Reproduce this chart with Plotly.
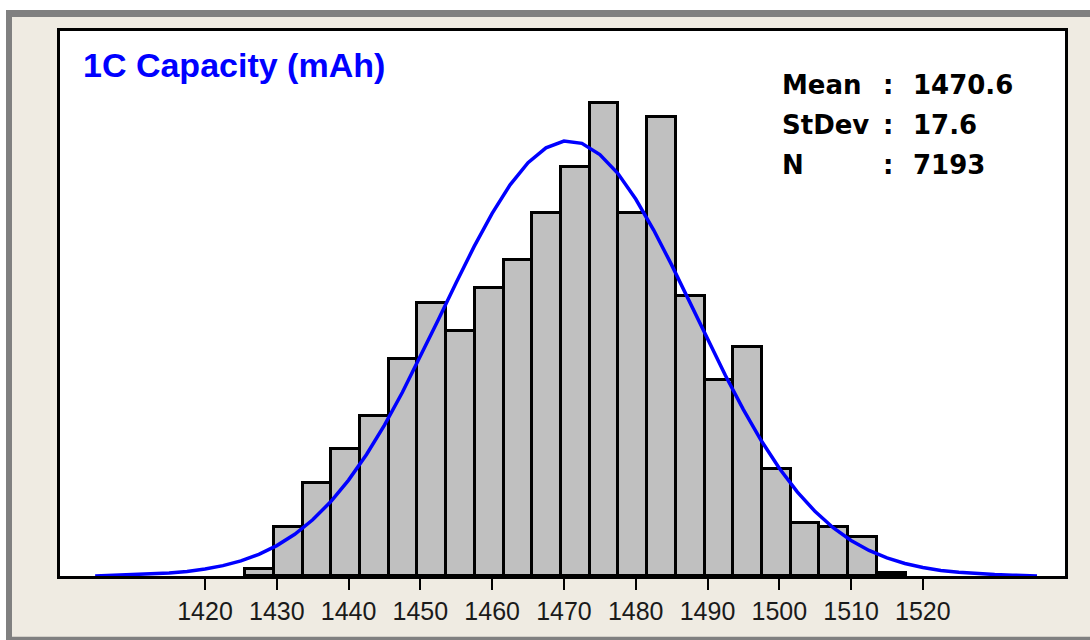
import plotly.graph_objects as go

# histogram bins (mAh) and counts
bin_centers = [1427.6, 1431.6, 1435.6, 1439.6, 1443.6, 1447.6, 1451.6, 1455.6,
               1459.6, 1463.6, 1467.6, 1471.6, 1475.6, 1479.6, 1483.6, 1487.6,
               1491.6, 1495.6, 1499.6, 1503.6, 1507.6, 1511.6, 1515.6]
counts = [10, 74, 139, 191, 240, 326, 410, 368, 432, 474, 544, 613,
          710, 544, 689, 420, 294, 343, 161, 80, 74, 59, 4]

# fitted curve
curve_x = [1404.7, 1407.5, 1410, 1412.5, 1415, 1417.5, 1420, 1422.5, 1425, 1427.5,
           1430, 1432.5, 1435, 1437.5, 1440, 1442.5, 1445, 1447.5, 1450, 1452.5,
           1455, 1457.5, 1460, 1462.5, 1465, 1467.5, 1470, 1472.5, 1475, 1477.5,
           1480, 1482.5, 1485, 1487.5, 1490, 1492.5, 1495, 1497.5, 1500, 1502.5,
           1505, 1507.5, 1510, 1512.5, 1515, 1517.5, 1520, 1522.5, 1525, 1527.5,
           1530, 1532.5, 1535, 1535.9]
curve_y = [0, 1.1, 1.7, 2.8, 4.4, 6.9, 10.5, 15.6, 22.7, 32.5,
           45.6, 62.6, 84.3, 111.3, 143.9, 182.3, 226.4, 275.6, 328.8, 384.3,
           440.3, 494.4, 544.0, 586.7, 620.0, 642.2, 652.5, 649.0, 632.1, 604.0,
           565.5, 519.0, 466.7, 411.3, 355.3, 300.7, 249.5, 202.8, 161.6, 126.2,
           96.6, 72.4, 53.2, 38.3, 27.1, 18.7, 12.7, 8.4, 5.5, 3.5,
           2.2, 1.3, 0.8, 0]

tick_vals = [1420, 1430, 1440, 1450, 1460, 1470, 1480, 1490, 1500, 1510, 1520]
tick_text = ["1420", "1430", "1440", "1450", "1460", "1470", "1480", "1490", "1500", "1510", "1520"]

stat_labels = ["Mean", "StDev", "N"]
stat_values = ["1470.6", "17.6", "7193"]

W, H = 1090, 640
L, R, T, B = 60, 25, 31, 64

def px(x):
    return (x - L) / (W - L - R)

def py(y):
    return (H - B - y) / (H - T - B)

BEIGE = "#EFEBE2"
GRAY = "#808080"

fig = go.Figure()
fig.add_bar(
    x=bin_centers,
    y=counts,
    width=4,
    marker_color="#C0C0C0",
    marker_line=dict(color="black", width=3),
    showlegend=False
)
fig.add_scatter(
    x=curve_x,
    y=curve_y,
    mode="lines",
    line=dict(color="#0000FF", width=3.5),
    showlegend=False
)

# window frame around the chart
shapes = [
    dict(type="rect", xref="paper", yref="paper", x0=px(0), x1=px(W), y0=py(0), y1=py(10),
         fillcolor="white", line_width=0, layer="below"),
    dict(type="rect", xref="paper", yref="paper", x0=px(0), x1=px(6), y0=py(0), y1=py(H),
         fillcolor="white", line_width=0, layer="below"),
    dict(type="rect", xref="paper", yref="paper", x0=px(6), x1=px(W), y0=py(10), y1=py(17),
         fillcolor=GRAY, line_width=0, layer="below"),
    dict(type="rect", xref="paper", yref="paper", x0=px(6), x1=px(12), y0=py(10), y1=py(H),
         fillcolor=GRAY, line_width=0, layer="below"),
    dict(type="rect", xref="paper", yref="paper", x0=px(6), x1=px(W), y0=py(636.7), y1=py(H),
         fillcolor=GRAY, line_width=0, layer="below"),
]

annotations = [
    dict(text="1C Capacity (mAh)", xref="paper", yref="paper", x=px(81), y=py(65),
         xanchor="left", yanchor="middle", showarrow=False,
         font=dict(family="Liberation Sans", size=34, color="#0000FF", weight="bold"))
]
for i, (lab, val) in enumerate(zip(stat_labels, stat_values)):
    yy = py(85 + 40 * i)
    f = dict(family="DejaVu Sans", size=26, color="black", weight="bold")
    annotations.append(dict(text=lab, xref="paper", yref="paper", x=px(780), y=yy,
                            xanchor="left", yanchor="middle", showarrow=False, font=f))
    annotations.append(dict(text=":", xref="paper", yref="paper", x=px(888), y=yy,
                            xanchor="center", yanchor="middle", showarrow=False, font=f))
    annotations.append(dict(text=val, xref="paper", yref="paper", x=px(911), y=yy,
                            xanchor="left", yanchor="middle", showarrow=False, font=f))

fig.update_layout(
    width=W,
    height=H,
    margin=dict(l=L, r=R, t=T, b=B),
    paper_bgcolor=BEIGE,
    plot_bgcolor="white",
    bargap=0,
    shapes=shapes,
    annotations=annotations,
    xaxis=dict(
        range=[1399.8, 1539.8],
        tickvals=tick_vals,
        ticktext=tick_text,
        ticks="outside",
        ticklen=11,
        tickwidth=2,
        tickcolor="black",
        showline=True,
        linecolor="black",
        linewidth=3,
        mirror=True,
        showgrid=False,
        zeroline=False,
        tickfont=dict(family="Liberation Sans", size=25, color="#1a1a1a")
    ),
    yaxis=dict(
        range=[0, 817.5],
        showticklabels=False,
        ticks="",
        showline=True,
        linecolor="black",
        linewidth=3,
        mirror=True,
        showgrid=False,
        zeroline=False
    )
)

# page margin off so the figure sits at the window's corner
fig.write_html("out.html", config={"displayModeBar": False},
               post_script="document.body.style.margin='0';")
